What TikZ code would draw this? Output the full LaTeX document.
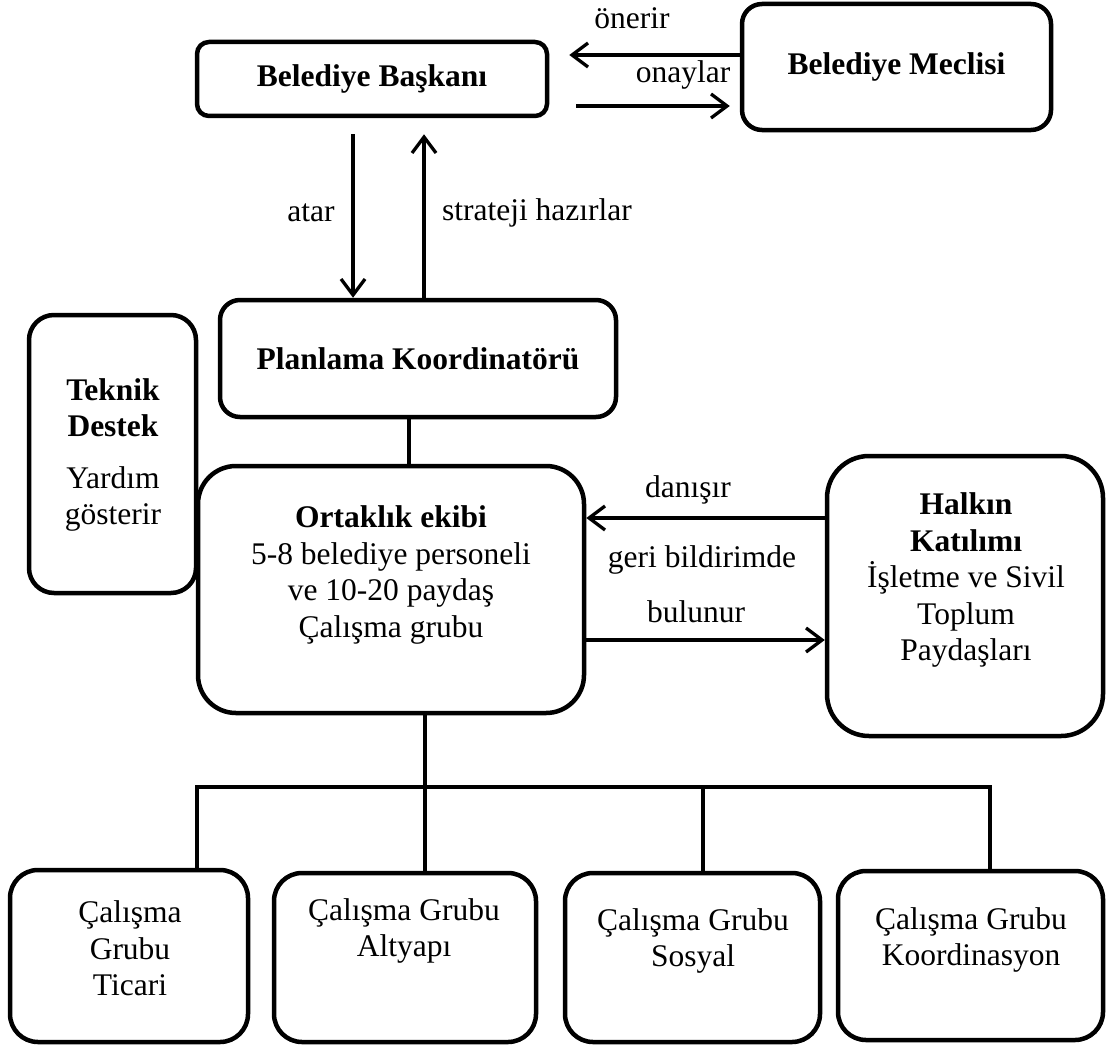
\documentclass[tikz,border=0pt]{standalone}
\usepackage{fontspec}
\setmainfont{Liberation Serif}
\usetikzlibrary{arrows.meta}
\begin{document}
\begin{tikzpicture}[x=1pt,y=-1pt,
  every node/.style={font=\fontsize{31.5}{36.5}\selectfont, inner sep=0pt},
  box/.style={draw, line width=4.5pt, rounded corners=#1},
  box/.default=20pt,
  conn/.style={line width=3.3pt},
  arr/.style={line width=3.3pt, -{Straight Barb[length=16pt,width=24pt]}},
  lbl/.style={align=center}]
\useasboundingbox (0,0) rectangle (1107,1046);

% boxes
\node[box=12pt, minimum width=350pt, minimum height=74pt] (bb) at (372,79) {\bfseries Belediye Başkanı};
\node[box=20pt, minimum width=309pt, minimum height=126pt] (bm) at (896.5,67) {\bfseries Belediye Meclisi};
\node[box=20pt, minimum width=396pt, minimum height=117pt] (pk) at (418,358.5) {\bfseries Planlama Koordinatörü};
\node[box=25pt, minimum width=167pt, minimum height=278pt] (td) at (112.5,454) {};
\node[box=38pt, minimum width=386pt, minimum height=247pt] (oe) at (391,589.5) {};
\node[box=42pt, minimum width=276pt, minimum height=280pt] (ha) at (965,596) {};
\node[box=28pt, minimum width=238pt, minimum height=172pt] (ct) at (129,956) {};
\node[box=28pt, minimum width=262pt, minimum height=169pt] (ca) at (405,957.5) {};
\node[box=28pt, minimum width=255pt, minimum height=169pt] (cs) at (692.5,957.5) {};
\node[box=28pt, minimum width=265pt, minimum height=169pt] (ck) at (970.5,955.5) {};

% box texts
\node[lbl] (tdt) at (113,455) {\textbf{Teknik}\\\textbf{Destek}\\[15pt]Yardım\\gösterir};
\node[lbl] (oet) at (391,575) {\textbf{Ortaklık ekibi}\\5-8 belediye personeli\\ve 10-20 paydaş\\Çalışma grubu};
\node[lbl] (hat) at (966,580) {\textbf{Halkın}\\\textbf{Katılımı}\\İşletme ve Sivil\\Toplum\\Paydaşları};
\node[lbl] (ctt) at (130,948.5) {Çalışma\\Grubu\\Ticari};
\node[lbl] (cat) at (404,931) {Çalışma Grubu\\Altyapı};
\node[lbl] (cst) at (693,941) {Çalışma Grubu\\Sosyal};
\node[lbl] (ckt) at (971,940) {Çalışma Grubu\\Koordinasyon};

% connector labels
\node (l1) at (311,213) {atar};
\node (l2) at (537,213) {strateji hazırlar};
\node (l3) at (632,18) {önerir};
\node (l4) at (683,75) {onaylar};
\node (l5) at (688,490) {danışır};
\node (l6) at (702,560) {geri bildirimde};
\node (l7) at (696,612) {bulunur};

% helper coordinates
\coordinate (xa) at (353,0);
\coordinate (xs) at (424,0);
\coordinate (xp) at (409,0);
\coordinate (xo) at (425,0);
\coordinate (xt) at (197,0);
\coordinate (xso) at (703,0);
\coordinate (xk) at (990,0);
\coordinate (ybus) at (0,787);
\coordinate (yon) at (0,55);
\coordinate (yona) at (0,106);
\coordinate (yd) at (0,518);
\coordinate (yg) at (0,640);

% connectors
\draw[arr] ([yshift=-16pt]bb.south -| xa) -- (pk.north -| xa);
\draw[arr] (pk.north -| xs) -- ([yshift=-16pt]bb.south -| xs);
\draw[arr] (bm.west |- yon) -- ([xshift=20pt]bb.east |- yon);
\draw[arr] ([xshift=27pt]bb.east |- yona) -- ([xshift=-10pt]bm.west |- yona);
\draw[conn] (pk.south -| xp) -- (oe.north -| xp);
\draw[arr] (ha.west |- yd) -- (oe.east |- yd);
\draw[arr] (oe.east |- yg) -- (ha.west |- yg);
\draw[conn] (oe.south -| xo) -- (ca.north -| xo);
\draw[conn] (ct.north -| xt) |- (ybus -| xk) -- (ck.north -| xk);
\draw[conn] (ybus -| xso) -- (cs.north -| xso);
\end{tikzpicture}
\end{document}
